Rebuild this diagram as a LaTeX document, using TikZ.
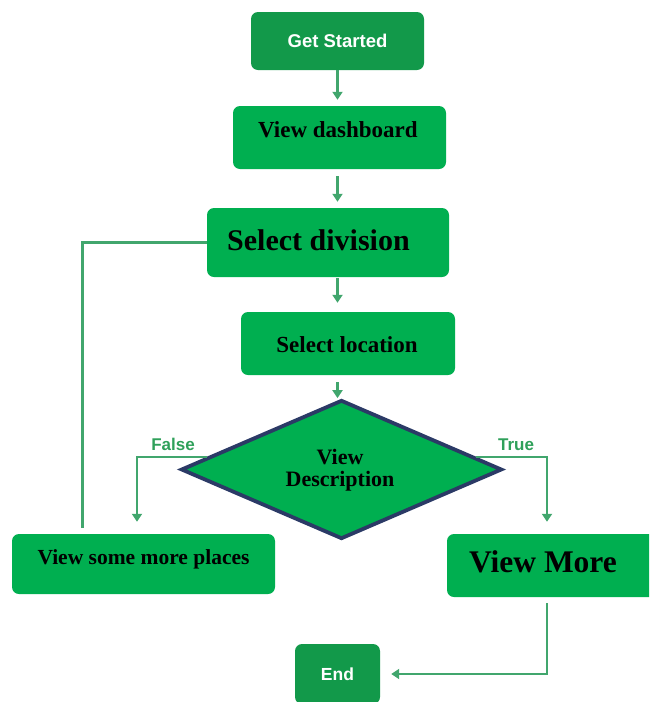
\documentclass[tikz,border=0pt]{standalone}
\usepackage{fontspec}
\setmainfont{Liberation Serif}
\newfontfamily\gsans{Liberation Sans}
\usetikzlibrary{shapes.geometric,arrows.meta,calc}
\definecolor{boxgreen}{HTML}{00AF50}
\definecolor{darkgreen}{HTML}{12994A}
\definecolor{linegreen}{HTML}{41A66D}
\definecolor{labelgreen}{HTML}{2FA05A}
\definecolor{navy}{HTML}{2B3A66}
\begin{document}
\begin{tikzpicture}[x=1pt,y=-1pt,
  box/.style={rectangle, rounded corners=7pt, fill=boxgreen, inner sep=0pt},
  darkbox/.style={rectangle, rounded corners=7pt, fill=darkgreen, inner sep=0pt},
  lbl/.style={anchor=base, inner sep=0pt},
  conn/.style={draw=linegreen, line width=2.1pt},
  arr/.style={conn, -{Triangle[width=10pt,length=8pt]}},
  decision/.style={diamond, draw=navy, line width=3.8pt, fill=boxgreen, inner sep=0pt},
]
\useasboundingbox (0,0) rectangle (649,702);
\clip (0,0) rectangle (649,702);

% coordinates for vertical connector lines
\coordinate (xF) at (137,0);
\coordinate (xT) at (547,0);
\coordinate (xL) at (82.5,0);

% nodes
\node[darkbox, minimum width=173pt, minimum height=58pt] (start) at (337.5,41) {};
\node[lbl, text=white, font=\gsans\bfseries\fontsize{18.5}{20}\selectfont] (tstart) at (337.5,47) {Get Started};

\node[box, minimum width=213pt, minimum height=63pt] (dash) at (339.5,137.5) {};
\node[lbl, font=\bfseries\fontsize{23}{25}\selectfont] (tdash) at (338,137) {View dashboard};

\node[box, minimum width=242pt, minimum height=69pt] (div) at (328,242.5) {};
\node[lbl, font=\bfseries\fontsize{30}{32}\selectfont] (tdiv) at (318.5,250) {Select division};

\node[box, minimum width=214pt, minimum height=63pt] (loc) at (348,343.5) {};
\node[lbl, font=\bfseries\fontsize{23}{25}\selectfont] (tloc) at (347,352.5) {Select location};

\node[decision, minimum width=321pt, minimum height=139pt] (dia) at (341.5,469.5) {};
\node[lbl, font=\bfseries\fontsize{22}{24}\selectfont] (tdia1) at (340,464) {View};
\node[lbl, font=\bfseries\fontsize{22}{24}\selectfont] (tdia2) at (340,486) {Description};

\node[box, minimum width=263pt, minimum height=60pt] (vsm) at (143.5,564) {};
\node[lbl, font=\bfseries\fontsize{21.5}{23}\selectfont] (tvsm) at (143.5,564) {View some more places};

\node[box, minimum width=213pt, minimum height=63pt] (vm) at (553.5,565.5) {};
\node[lbl, font=\bfseries\fontsize{31.5}{33}\selectfont] (tvm) at (543,572.7) {View More};

\node[darkbox, minimum width=85pt, minimum height=60pt] (end) at (337.5,674) {};
\node[lbl, text=white, font=\gsans\bfseries\fontsize{17.5}{19}\selectfont] (tend) at (337.5,680.5) {End};

\node[lbl, text=labelgreen, font=\gsans\bfseries\fontsize{17}{19}\selectfont] (tfalse) at (173,450.7) {False};
\node[lbl, text=labelgreen, font=\gsans\bfseries\fontsize{17}{19}\selectfont] (ttrue) at (516,450.7) {True};

% connectors
\draw[arr, shorten >=6pt] (start.south) -- (start.south |- dash.north);
\draw[arr, shorten <=7pt, shorten >=6pt] (start.south |- dash.south) -- (start.south |- div.north);
\draw[arr, shorten <=1pt, shorten >=9pt] (start.south |- div.south) -- (start.south |- loc.north);
\draw[arr, shorten <=7pt] (start.south |- loc.south) -- (start.south |- dia.north);
\draw[arr, shorten >=12pt] ($(dia.west)!0.17!(dia.north)$) -| (vsm.north -| xF);
\draw[arr, shorten >=12pt] ($(dia.east)!0.17!(dia.north)$) -| (vm.north -| xT);
\draw[conn, shorten >=6pt] (div.west) -| (vsm.north -| xL);
\draw[arr, shorten <=6pt, shorten >=11pt] (vm.south -| xT) |- (end.east);
\end{tikzpicture}
\end{document}
